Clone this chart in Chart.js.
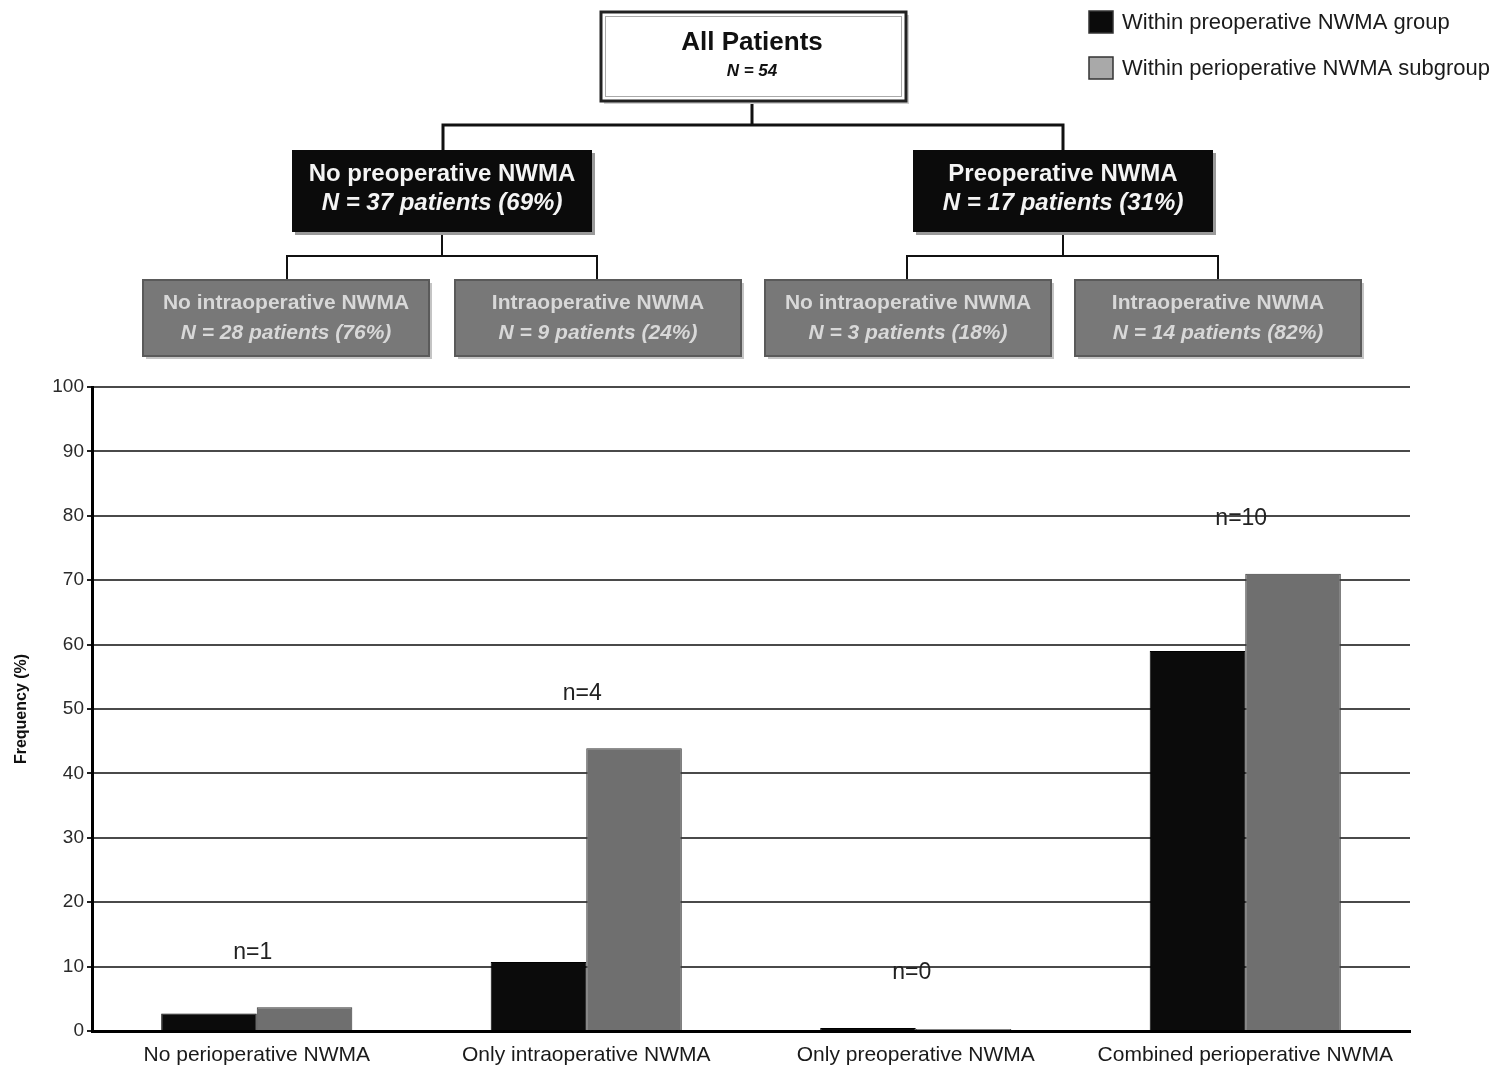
<!DOCTYPE html>
<html>
<head>
<meta charset="utf-8">
<script src="https://cdn.jsdelivr.net/npm/chart.js@4.4.1/dist/chart.umd.min.js"></script>
<style>
  html, body { margin: 0; padding: 0; background: #ffffff; }
  #wrap { position: relative; width: 1502px; height: 1068px; overflow: hidden; }
</style>
</head>
<body>
<div id="wrap"><canvas id="c" width="1502" height="1068"></canvas></div>
<script>
// Outcome categories along the x axis
const categories = [
  'No perioperative NWMA',
  'Only intraoperative NWMA',
  'Only preoperative NWMA',
  'Combined perioperative NWMA'
];
// Frequency (%) within the preoperative NWMA group
const withinPreopGroup = [2.7, 10.7, 0, 59.0];
// Frequency (%) within the perioperative NWMA subgroup
const withinPeriopSubgroup = [3.7, 43.9, 0, 71.0];
// Patient counts written above each pair of bars
const countLabels = ['n=1', 'n=4', 'n=0', 'n=10'];
// Y axis ticks
const yTicks = [0, 10, 20, 30, 40, 50, 60, 70, 80, 90, 100];

// Patient flow tree shown above the chart
const rootLines = ['All Patients', 'N = 54'];
const groupLines = [
  ['No preoperative NWMA', 'N = 37 patients (69%)'],
  ['Preoperative NWMA', 'N = 17 patients (31%)']
];
const subgroupLines = [
  ['No intraoperative NWMA', 'N = 28 patients (76%)'],
  ['Intraoperative NWMA', 'N = 9 patients (24%)'],
  ['No intraoperative NWMA', 'N = 3 patients (18%)'],
  ['Intraoperative NWMA', 'N = 14 patients (82%)']
];
const legendLabels = ['Within preoperative NWMA group', 'Within perioperative NWMA subgroup'];

const FONT = '"Liberation Sans", Arial, Helvetica, sans-serif';
const BLACK = '#0b0b0b';
const GRAY = '#6f6f6f';

function drawBox(ctx, x, y, w, h, fill, opts) {
  ctx.save();
  if (opts.shadow) {
    ctx.fillStyle = opts.shadow;
    ctx.fillRect(x + 3, y + 3, w, h);
  }
  ctx.fillStyle = fill;
  ctx.fillRect(x, y, w, h);
  if (opts.stroke) {
    ctx.strokeStyle = opts.stroke;
    ctx.lineWidth = opts.strokeWidth || 2;
    ctx.strokeRect(x, y, w, h);
  }
  if (opts.inner) {
    ctx.strokeStyle = opts.inner;
    ctx.lineWidth = 1;
    ctx.strokeRect(x + 4.5, y + 4.5, w - 9, h - 9);
  }
  ctx.restore();
}

function drawLines(ctx, cx, ys, lines, fonts, color) {
  ctx.save();
  ctx.fillStyle = color;
  ctx.textAlign = 'center';
  ctx.textBaseline = 'middle';
  lines.forEach((t, i) => {
    ctx.font = fonts[i];
    ctx.fillText(t, cx, ys[i]);
  });
  ctx.restore();
}

function connector(ctx, topX, topY, midY, leftX, rightX, botY) {
  ctx.beginPath();
  ctx.moveTo(topX, topY); ctx.lineTo(topX, midY);
  ctx.moveTo(leftX, botY); ctx.lineTo(leftX, midY); ctx.lineTo(rightX, midY); ctx.lineTo(rightX, botY);
  ctx.stroke();
}

const treePlugin = {
  id: 'patientTree',
  afterDraw(chart) {
    const ctx = chart.ctx;
    ctx.save();
    ctx.strokeStyle = '#111';
    ctx.lineWidth = 3;
    connector(ctx, 752, 101, 125, 443, 1063, 150);
    ctx.lineWidth = 2;
    connector(ctx, 442, 232, 256, 287, 597, 280);
    connector(ctx, 1063, 232, 256, 907, 1218, 280);
    ctx.restore();

    // root
    drawBox(ctx, 601, 12, 305, 89, '#ffffff', { stroke: '#222', strokeWidth: 3, inner: '#aaa', shadow: '#cfcfcf' });
    drawLines(ctx, 752, [43, 71], rootLines,
      ['bold 26px ' + FONT, 'italic bold 17px ' + FONT], '#111');

    // preoperative groups
    const gx = [292, 913];
    gx.forEach((x, i) => {
      drawBox(ctx, x, 150, 300, 82, BLACK, { shadow: '#9a9a9a' });
      drawLines(ctx, x + 150, [174, 203], groupLines[i],
        ['bold 24px ' + FONT, 'italic bold 24px ' + FONT], '#f4f4f4');
    });

    // intraoperative subgroups
    const sx = [143, 455, 765, 1075];
    sx.forEach((x, i) => {
      drawBox(ctx, x, 280, 286, 76, '#787878', { stroke: '#5a5a5a', strokeWidth: 2, shadow: '#c4c4c4' });
      drawLines(ctx, x + 143, [303, 333], subgroupLines[i],
        ['bold 21px ' + FONT, 'italic bold 21px ' + FONT], '#d8d8d8');
    });

    // legend
    const swatch = [BLACK, '#a9a9a9'];
    const ly = [22, 68];
    ctx.save();
    ly.forEach((y, i) => {
      ctx.fillStyle = swatch[i];
      ctx.fillRect(1089, y - 11, 24, 22);
      ctx.strokeStyle = '#333';
      ctx.lineWidth = 1.5;
      ctx.strokeRect(1089, y - 11, 24, 22);
      ctx.fillStyle = '#1a1a1a';
      ctx.font = '22px ' + FONT;
      ctx.textAlign = 'left';
      ctx.textBaseline = 'middle';
      ctx.fillText(legendLabels[i], 1122, y + 1);
    });
    ctx.restore();
  }
};

const countPlugin = {
  id: 'countLabels',
  afterDatasetsDraw(chart) {
    const ctx = chart.ctx;
    const m0 = chart.getDatasetMeta(0).data;
    const m1 = chart.getDatasetMeta(1).data;
    ctx.save();
    ctx.fillStyle = '#222';
    ctx.font = '23px ' + FONT;
    ctx.textAlign = 'center';
    ctx.textBaseline = 'middle';
    countLabels.forEach((t, i) => {
      const top = Math.min(m0[i].y, m1[i].y);
      const cx = (m0[i].x + m1[i].x) / 2;
      ctx.fillText(t, cx - 4, top - 55);
    });
    ctx.restore();
  }
};

new Chart(document.getElementById('c'), {
  type: 'bar',
  data: {
    labels: categories,
    datasets: [
      {
        label: legendLabels[0],
        data: withinPreopGroup,
        backgroundColor: BLACK,
        borderColor: '#000',
        borderWidth: 1,
        minBarLength: 3
      },
      {
        label: legendLabels[1],
        data: withinPeriopSubgroup,
        backgroundColor: GRAY,
        borderColor: '#3a3a3a',
        borderWidth: 1,
        minBarLength: 2
      }
    ]
  },
  options: {
    responsive: false,
    animation: false,
    layout: { padding: { top: 387, right: 92, bottom: 0, left: 0 } },
    plugins: {
      legend: { display: false },
      tooltip: { enabled: false }
    },
    datasets: {
      bar: { categoryPercentage: 0.58, barPercentage: 1.0 }
    },
    scales: {
      x: {
        grid: { display: false },
        border: { display: true, color: '#000', width: 3 },
        ticks: {
          color: '#1a1a1a',
          font: { family: FONT, size: 21 },
          padding: 4,
          maxRotation: 0
        },
        afterFit(scale) { scale.height = 37; }
      },
      y: {
        min: 0,
        max: 100,
        afterBuildTicks(scale) { scale.ticks = yTicks.map(v => ({ value: v })); },
        grid: { color: '#4a4a4a', lineWidth: 2, tickLength: 5, tickColor: '#222', drawTicks: true },
        border: { display: true, color: '#000', width: 3 },
        ticks: {
          color: '#2a2a2a',
          font: { family: FONT, size: 19 },
          padding: 3
        },
        title: {
          display: true,
          text: 'Frequency (%)',
          color: '#111',
          font: { family: FONT, size: 16, weight: 'bold' },
          padding: { top: 12, bottom: 0 }
        },
        afterFit(scale) { scale.width = 92; }
      }
    }
  },
  plugins: [treePlugin, countPlugin]
});
</script>
</body>
</html>
